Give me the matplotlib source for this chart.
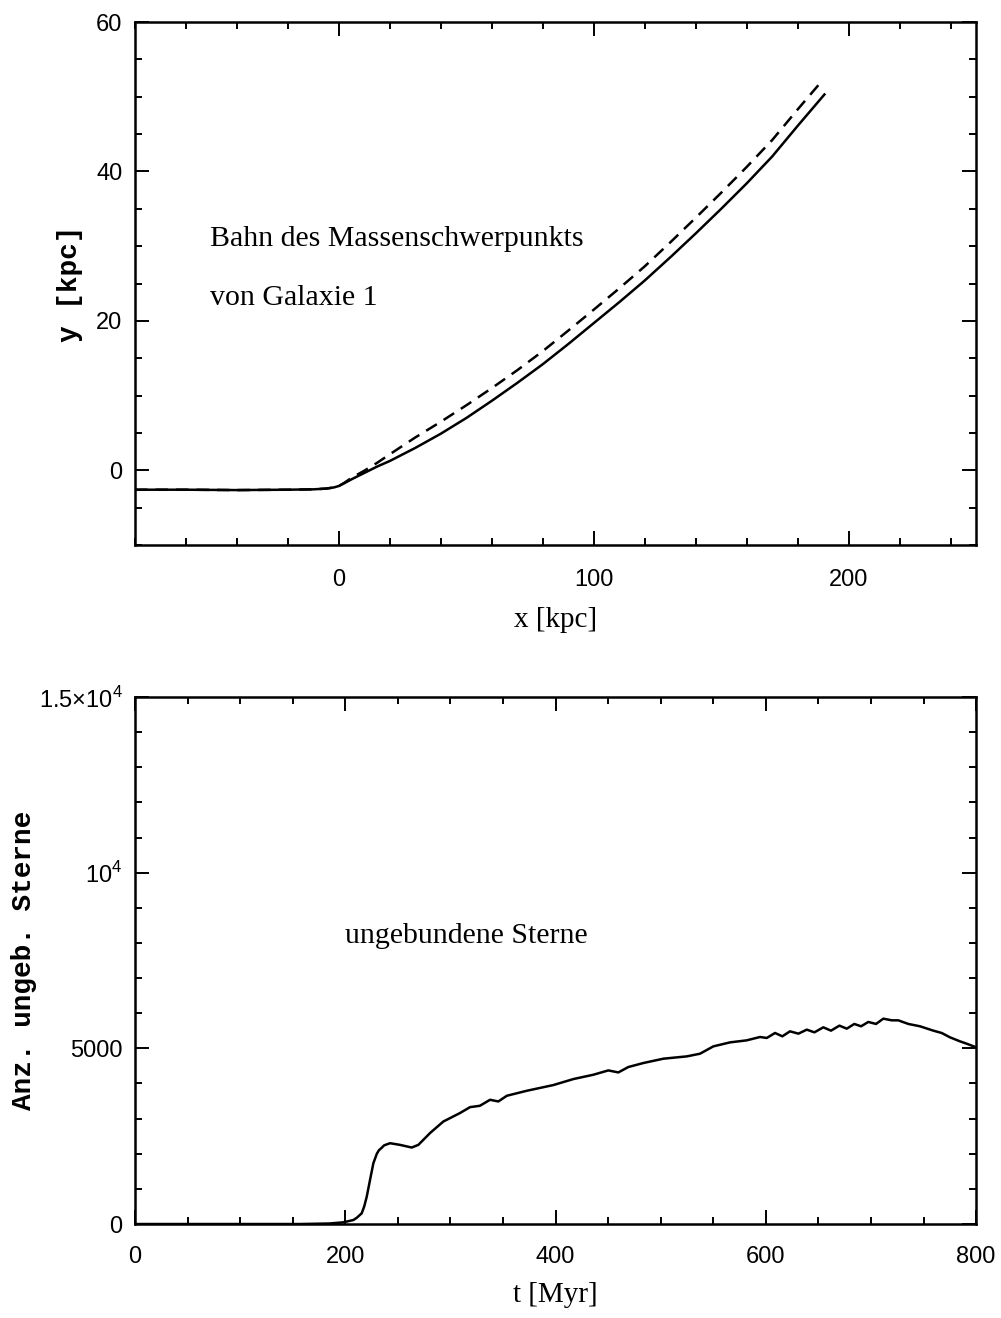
import matplotlib
matplotlib.use('Agg')
import matplotlib.pyplot as plt
from matplotlib.ticker import MultipleLocator, FixedLocator, FixedFormatter

plt.rcParams['mathtext.fontset'] = 'custom'
plt.rcParams['mathtext.rm'] = 'Liberation Sans'

# orbit of centre of mass, galaxy 1 (solid / dashed)
x_solid = [-80, -60, -40, -20, -10, -5, -2, 0, 2, 5, 10, 15, 20, 30, 40, 50, 60, 70,
           80, 90, 100, 110, 120, 130, 140, 150, 160, 170, 180, 190.5]
y_solid = [-2.6, -2.6, -2.65, -2.6, -2.55, -2.45, -2.3, -2.1, -1.75, -1.2, -0.35, 0.5,
           1.25, 3.0, 4.9, 7.0, 9.3, 11.7, 14.2, 16.9, 19.7, 22.5, 25.4, 28.5, 31.7,
           35.0, 38.4, 42.0, 46.1, 50.3]
x_dash = [-80, -60, -40, -20, -10, -5, -2, 0, 2, 5, 10, 15, 20, 30, 40, 50, 60, 70,
          80, 90, 100, 110, 120, 130, 140, 150, 160, 170, 180, 189]
y_dash = [-2.6, -2.6, -2.65, -2.6, -2.55, -2.45, -2.3, -2.1, -1.7, -1.0, -0.05, 1.0,
          2.15, 4.4, 6.5, 8.7, 11.0, 13.4, 15.95, 18.7, 21.5, 24.35, 27.3, 30.5, 33.8,
          37.15, 40.6, 44.2, 48.3, 51.9]

# number of unbound stars vs time
t_myr = [0, 100, 157, 185, 198, 207.7, 211, 215.6, 218, 220.4, 223.5, 226.7, 230, 232,
         234.6, 237, 242.6, 252, 263.2, 269.5, 281, 293.3, 309, 318.7, 328, 337.7,
         345.6, 353.6, 372.6, 397.9, 417, 436, 450.2, 459.7, 469.2, 483.5, 502.5, 524.8,
         537.4, 550.1, 566, 581.8, 594.5, 600.9, 608.8, 615.7, 623, 631, 639, 646.2,
         654.7, 662, 670, 677, 684.2, 690.6, 697.5, 704.8, 711.8, 719.8, 726, 735.6,
         746.7, 759.4, 767.3, 775.2, 784.7, 791, 800]
n_unbound = [0, 0, 0, 15, 48, 114, 180, 305, 500, 779, 1250, 1730, 2000, 2100,
             2170, 2240, 2300, 2253, 2177, 2253, 2600, 2918, 3157, 3327, 3365, 3536,
             3488, 3650, 3792, 3955, 4126, 4249, 4372, 4314, 4468, 4582, 4705, 4771,
             4847, 5056, 5170, 5227, 5323, 5295, 5437, 5342, 5484, 5418, 5532, 5455,
             5598, 5503, 5646, 5560, 5694, 5627, 5751, 5694, 5845, 5797, 5797, 5694,
             5627, 5503, 5437, 5313, 5199, 5133, 5030]

n_ticks = [0, 5000, 10000, 15000]
n_labels = ['0', '5000', r'$10^4$', r'$1.5{\times}10^4$']

serif = 'Liberation Serif'
slab = 'Liberation Mono'
sans = 'Liberation Sans'


def style_axes(ax, pad):
    ax.tick_params(which='both', direction='in', top=True, right=True, width=1.4)
    ax.tick_params(which='major', length=10)
    ax.tick_params(which='minor', length=5)
    ax.tick_params(axis='x', pad=pad)
    ax.tick_params(axis='y', pad=9)
    for sp in ax.spines.values():
        sp.set_linewidth(1.8)
    for lab in ax.get_xticklabels() + ax.get_yticklabels():
        lab.set_fontfamily(sans)
        lab.set_fontsize(17)


fig = plt.figure(figsize=(10.01, 13.18), dpi=100)

# top panel
ax1 = fig.add_axes([0.1349, 0.5865, 0.8402, 0.3968])
ax1.plot(x_solid, y_solid, c='black', linewidth=1.8)
ax1.plot(x_dash, y_dash, c='black', linewidth=1.8, linestyle=(0, (5, 3.2)))
ax1.set_xlim(-80, 250)
ax1.set_ylim(-10, 60)
ax1.xaxis.set_major_locator(MultipleLocator(100))
ax1.xaxis.set_minor_locator(MultipleLocator(20))
ax1.yaxis.set_major_locator(FixedLocator([0, 20, 40, 60]))
ax1.yaxis.set_minor_locator(MultipleLocator(5))
style_axes(ax1, 17)
ax1.set_xlabel('x [kpc]', fontfamily=serif, fontsize=21, labelpad=12)
ax1.set_ylabel('y [kpc]', fontfamily=slab, fontweight='bold', fontsize=20)
ax1.yaxis.set_label_coords(-0.062, 0.5)
ax1.text(-50.4, 31, 'Bahn des Massenschwerpunkts', fontfamily=serif, fontsize=21.5,
         va='center', ha='left')
ax1.text(-50.4, 23, 'von Galaxie 1', fontfamily=serif, fontsize=21.5,
         va='center', ha='left')

# bottom panel
ax2 = fig.add_axes([0.1349, 0.0713, 0.8402, 0.3999])
ax2.plot(t_myr, n_unbound, c='black', linewidth=1.8)
ax2.set_xlim(0, 800)
ax2.set_ylim(0, 15000)
ax2.xaxis.set_major_locator(MultipleLocator(200))
ax2.xaxis.set_minor_locator(MultipleLocator(50))
ax2.yaxis.set_major_locator(FixedLocator(n_ticks))
ax2.yaxis.set_major_formatter(FixedFormatter(n_labels))
ax2.yaxis.set_minor_locator(MultipleLocator(1000))
style_axes(ax2, 16)
ax2.set_xlabel('t [Myr]', fontfamily=serif, fontsize=21, labelpad=10)
ax2.set_ylabel('Anz. ungeb. Sterne', fontfamily=slab, fontweight='bold', fontsize=20)
ax2.yaxis.set_label_coords(-0.1165, 0.5)
ax2.text(200, 8200, 'ungebundene Sterne', fontfamily=serif, fontsize=21.5,
         va='center', ha='left')

fig.savefig('out.png', dpi=100)
